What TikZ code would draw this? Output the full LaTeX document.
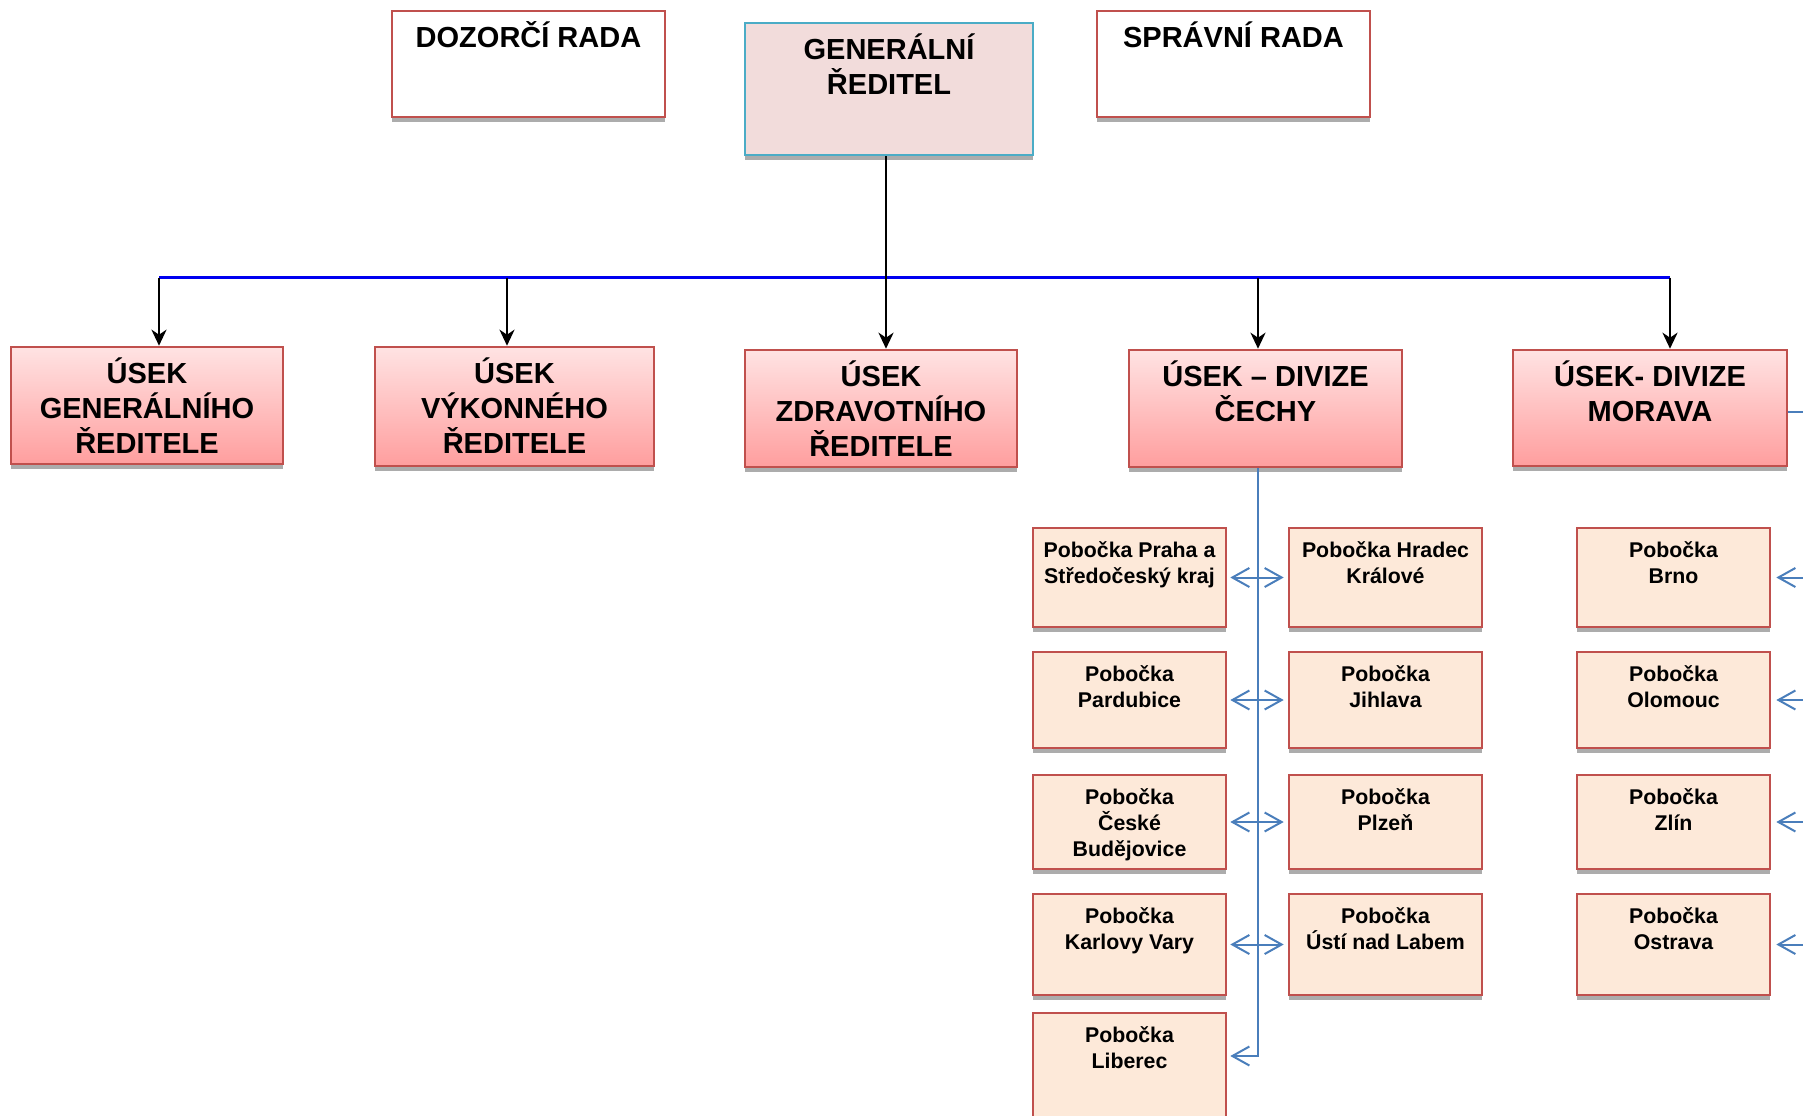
\documentclass[tikz,border=0pt]{standalone}
\usepackage{fontspec}
\setmainfont{Liberation Sans}
\usetikzlibrary{arrows.meta,calc,shadows}

\definecolor{boxred}{HTML}{C0504D}
\definecolor{grline}{HTML}{4BACC6}
\definecolor{grfill}{HTML}{F2DCDB}
\definecolor{usektop}{HTML}{FFE3E3}
\definecolor{usekbot}{HTML}{FF9E9E}
\definecolor{pobfill}{HTML}{FDE9D9}
\definecolor{busblue}{HTML}{0000F0}
\definecolor{linkblue}{HTML}{4A7EBB}

\tikzset{
  stripe/.style={drop shadow={shadow xshift=0pt, shadow yshift=-0.045cm, fill=gray!65, opacity=1}},
  bigbox/.style n args={2}{draw=boxred, line width=0.025cm, inner sep=0pt, stripe,
    execute at begin node={\begin{minipage}[c][#2][t]{#1}\centering\fontsize{8.25pt}{9.9pt}\selectfont\bfseries\rule{0pt}{0.37cm}},
    execute at end node={\end{minipage}}},
  usek/.style n args={2}{bigbox={#1}{#2}, top color=usektop, bottom color=usekbot},
  rada/.style={bigbox={2.73cm}{1.06cm}, fill=white},
  pobocka/.style={draw=boxred, line width=0.025cm, inner sep=0pt, stripe, fill=pobfill,
    execute at begin node={\begin{minipage}[c][#1][t]{1.93cm}\centering\fontsize{6.06pt}{7.3pt}\selectfont\bfseries\rule{0pt}{0.297cm}},
    execute at end node={\end{minipage}}},
  tree/.style={line width=0.025cm, -{Stealth[length=0.16cm, width=0.15cm, inset=0.05cm]}},
  bus/.style={line width=0.023cm, busblue},
  link/.style={line width=0.02cm, linkblue},
  barb/.tip={Straight Barb[length=0.17cm, width=0.19cm]}
}

\begin{document}
\begin{tikzpicture}[x=0.01cm, y=-0.01cm]
  \useasboundingbox (0,0) rectangle (1803,1115);
  \clip (0,0) rectangle (1803,1115);

  % vedeni
  \node[rada] (dr) at (528.5,64) {DOZORČÍ RADA};
  \node[bigbox={2.88cm}{1.32cm}, draw=grline, fill=grfill] (gr) at (889,89) {GENERÁLNÍ\\ŘEDITEL};
  \node[rada] (sr) at (1233.5,64) {SPRÁVNÍ RADA};

  % useky
  \node[usek={2.72cm}{1.17cm}] (ug) at (147,405.5) {ÚSEK\\GENERÁLNÍHO\\ŘEDITELE};
  \node[usek={2.79cm}{1.19cm}] (uv) at (514.5,406.5) {ÚSEK\\VÝKONNÉHO\\ŘEDITELE};
  \node[usek={2.72cm}{1.17cm}] (uz) at (881,408.5) {ÚSEK\\ZDRAVOTNÍHO\\ŘEDITELE};
  \node[usek={2.73cm}{1.17cm}] (cechy) at (1265.5,408.5) {ÚSEK – DIVIZE\\ČECHY};
  \node[usek={2.74cm}{1.16cm}] (morava) at (1650,408) {ÚSEK- DIVIZE\\MORAVA};

  % pobocky Cechy
  \node[pobocka=0.99cm] (praha) at (1129.5,577.5) {Pobočka Praha a\\Středočeský kraj};
  \node[pobocka=0.99cm] (hradec) at (1385.5,577.5) {Pobočka Hradec\\Králové};
  \node[pobocka=0.96cm] (pardubice) at (1129.5,700) {Pobočka\\Pardubice};
  \node[pobocka=0.96cm] (jihlava) at (1385.5,700) {Pobočka\\Jihlava};
  \node[pobocka=0.94cm] (budejovice) at (1129.5,822) {Pobočka\\České\\Budějovice};
  \node[pobocka=0.94cm] (plzen) at (1385.5,822) {Pobočka\\Plzeň};
  \node[pobocka=1.01cm] (kvary) at (1129.5,944.5) {Pobočka\\Karlovy Vary};
  \node[pobocka=1.01cm] (usti) at (1385.5,944.5) {Pobočka\\Ústí nad Labem};
  \node[pobocka=1.17cm] (liberec) at (1129.5,1071.5) {Pobočka\\Liberec};

  % pobocky Morava
  \node[pobocka=0.99cm] (brno) at (1673.5,577.5) {Pobočka\\Brno};
  \node[pobocka=0.96cm] (olomouc) at (1673.5,700) {Pobočka\\Olomouc};
  \node[pobocka=0.94cm] (zlin) at (1673.5,822) {Pobočka\\Zlín};
  \node[pobocka=1.01cm] (ostrava) at (1673.5,944.5) {Pobočka\\Ostrava};

  % spoje
  \coordinate (b1) at (159,277.5);
  \coordinate (b2) at (507,277.5);
  \coordinate (b3) at (886,277.5);
  \coordinate (b4) at (1258,277.5);
  \coordinate (b5) at (1670,277.5);
  \coordinate (mv) at (1815,412);

  \draw[bus] (b1) -- (b5);
  \draw[tree] (gr.south -| b3) -- (b3 |- uz.north);
  \foreach \b/\u in {b1/ug, b2/uv, b4/cechy, b5/morava}
    \draw[tree] (\b) -- (\b |- \u.north);

  \draw[link] (b4 |- cechy.south) -- (b4 |- liberec.north);
  \draw[link, -{barb}, shorten >=0.03cm] (b4 |- liberec.north) |- ([yshift=0.155cm]liberec.east);
  \foreach \l/\r in {praha/hradec, pardubice/jihlava, budejovice/plzen, kvary/usti}
    \draw[link, {barb}-{barb}, shorten <=0.03cm, shorten >=0.04cm] (\l.east) -- (\r.west);

  \draw[link] (morava.east |- mv) -- (mv) -- (mv |- ostrava.east);
  \foreach \p in {brno, olomouc, zlin, ostrava}
    \draw[link, -{barb}, shorten >=0.05cm] (mv |- \p.east) -- (\p.east);
\end{tikzpicture}
\end{document}
